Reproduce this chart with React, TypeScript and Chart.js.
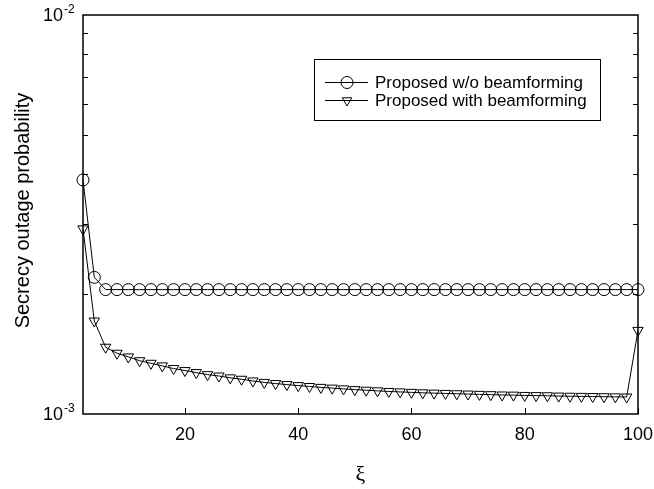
import React, { useEffect, useRef } from 'react';
import { Chart, registerables } from 'chart.js';

Chart.register(...registerables);

const xValues = [2, 4, 6, 8, 10, 12, 14, 16, 18, 20, 22, 24, 26, 28, 30, 32, 34, 36, 38, 40, 42, 44, 46, 48, 50, 52, 54, 56, 58, 60, 62, 64, 66, 68, 70, 72, 74, 76, 78, 80, 82, 84, 86, 88, 90, 92, 94, 96, 98, 100];

const withoutBeamforming = [3.86e-3, 2.2e-3, 2.05e-3, 2.05e-3, 2.05e-3, 2.05e-3, 2.05e-3, 2.05e-3, 2.05e-3, 2.05e-3,
  2.05e-3, 2.05e-3, 2.05e-3, 2.05e-3, 2.05e-3, 2.05e-3, 2.05e-3, 2.05e-3, 2.05e-3, 2.05e-3,
  2.05e-3, 2.05e-3, 2.05e-3, 2.05e-3, 2.05e-3, 2.05e-3, 2.05e-3, 2.05e-3, 2.05e-3, 2.05e-3,
  2.05e-3, 2.05e-3, 2.05e-3, 2.05e-3, 2.05e-3, 2.05e-3, 2.05e-3, 2.05e-3, 2.05e-3, 2.05e-3,
  2.05e-3, 2.05e-3, 2.05e-3, 2.05e-3, 2.05e-3, 2.05e-3, 2.05e-3, 2.05e-3, 2.05e-3, 2.05e-3];

const withBeamforming = [2.91e-3, 1.71e-3, 1.47e-3, 1.42e-3, 1.39e-3, 1.36e-3, 1.34e-3, 1.32e-3, 1.30e-3, 1.285e-3,
  1.27e-3, 1.255e-3, 1.245e-3, 1.232e-3, 1.222e-3, 1.21e-3, 1.2e-3, 1.192e-3, 1.185e-3, 1.178e-3,
  1.172e-3, 1.166e-3, 1.161e-3, 1.156e-3, 1.151e-3, 1.147e-3, 1.143e-3, 1.139e-3, 1.136e-3, 1.133e-3,
  1.13e-3, 1.128e-3, 1.126e-3, 1.124e-3, 1.122e-3, 1.12e-3, 1.118e-3, 1.116e-3, 1.115e-3, 1.113e-3,
  1.112e-3, 1.111e-3, 1.109e-3, 1.108e-3, 1.107e-3, 1.106e-3, 1.105e-3, 1.104e-3, 1.103e-3, 1.62e-3];

const seriesLabels = ['Proposed w/o beamforming', 'Proposed with beamforming'];
const xTickValues = [20, 40, 60, 80, 100];
const xTickLabels = ['20', '40', '60', '80', '100'];
const yMinorTicks = [2e-3, 3e-3, 4e-3, 5e-3, 6e-3, 7e-3, 8e-3, 9e-3];
const yMajorTicks = [1e-3, 1e-2];
const yMajorBase = '10';
const yMajorExponents = ['-3', '-2'];
const xTitle = 'ξ';
const yTitle = 'Secrecy outage probability';

const SANS = '"Liberation Sans", Arial, sans-serif';
const SERIF = '"Liberation Serif", "Times New Roman", serif';

function drawCircle(ctx: CanvasRenderingContext2D, x: number, y: number, r: number) {
  ctx.beginPath();
  ctx.arc(x, y, r, 0, Math.PI * 2);
  ctx.stroke();
}

function drawDownTriangle(ctx: CanvasRenderingContext2D, x: number, y: number, r: number) {
  ctx.beginPath();
  ctx.moveTo(x, y + r);
  ctx.lineTo(x - r * Math.sin(Math.PI / 3), y - r / 2);
  ctx.lineTo(x + r * Math.sin(Math.PI / 3), y - r / 2);
  ctx.closePath();
  ctx.stroke();
}

const framePlugin = {
  id: 'framePlugin',
  beforeDatasetsDraw(chart: any) {
    const { ctx, chartArea } = chart;
    const { left, right, top, bottom } = chartArea;
    const xs = chart.scales.x;
    const ys = chart.scales.y;
    ctx.save();
    ctx.strokeStyle = '#000';
    ctx.lineWidth = 1.5;
    ctx.strokeRect(left, top, right - left, bottom - top);
    ctx.lineWidth = 1;
    // y minor ticks (inward, both sides)
    yMinorTicks.forEach((v) => {
      const y = Math.round(ys.getPixelForValue(v)) + 0.5;
      ctx.beginPath();
      ctx.moveTo(left, y);
      ctx.lineTo(left + 5, y);
      ctx.moveTo(right, y);
      ctx.lineTo(right - 5, y);
      ctx.stroke();
    });
    // x ticks
    xTickValues.forEach((v) => {
      const x = Math.round(xs.getPixelForValue(v)) + 0.5;
      ctx.beginPath();
      ctx.moveTo(x, bottom);
      ctx.lineTo(x, bottom - 6);
      ctx.stroke();
    });
    // x tick labels
    ctx.fillStyle = '#000';
    ctx.font = `18px ${SANS}`;
    ctx.textAlign = 'center';
    ctx.textBaseline = 'middle';
    xTickValues.forEach((v, i) => {
      ctx.fillText(xTickLabels[i], xs.getPixelForValue(v), bottom + 21);
    });
    // y major labels
    yMajorTicks.forEach((v, i) => {
      const y = ys.getPixelForValue(v);
      ctx.font = `18px ${SANS}`;
      ctx.textAlign = 'right';
      ctx.textBaseline = 'middle';
      ctx.fillText(yMajorBase, left - 20, y + 1);
      ctx.font = `12px ${SANS}`;
      ctx.textAlign = 'left';
      ctx.fillText(yMajorExponents[i], left - 19, y - 5);
    });
    // axis titles
    ctx.font = `22px ${SERIF}`;
    ctx.textAlign = 'center';
    ctx.textBaseline = 'middle';
    ctx.fillText(xTitle, (left + right) / 2, bottom + 61);
    ctx.save();
    ctx.translate(23, (top + bottom) / 2 - 4);
    ctx.rotate(-Math.PI / 2);
    ctx.font = `20px ${SANS}`;
    ctx.fillText(yTitle, 0, 0);
    ctx.restore();
    ctx.restore();
  },
  afterDraw(chart: any) {
    const { ctx } = chart;
    ctx.save();
    ctx.strokeStyle = '#000';
    ctx.lineWidth = 1;
    ctx.strokeRect(314.5, 59.5, 286, 61);
    const rows = [82, 100];
    rows.forEach((y, i) => {
      ctx.beginPath();
      ctx.moveTo(325, y + 0.5);
      ctx.lineTo(368, y + 0.5);
      ctx.stroke();
      if (i === 0) drawCircle(ctx, 347, y + 0.5, 6);
      else drawDownTriangle(ctx, 347, y + 0.5, 5.5);
      ctx.fillStyle = '#000';
      ctx.font = `17px ${SANS}`;
      ctx.textAlign = 'left';
      ctx.textBaseline = 'middle';
      ctx.fillText(seriesLabels[i], 375, y + 1);
    });
    ctx.restore();
  },
};

export default function App() {
  const canvasRef = useRef<HTMLCanvasElement>(null);

  useEffect(() => {
    const prevMargin = document.body.style.margin;
    document.body.style.margin = '0';
    const canvas = canvasRef.current;
    if (!canvas) return;
    const chart = new Chart(canvas, {
      type: 'line',
      data: {
        datasets: [
          {
            label: seriesLabels[0],
            data: xValues.map((x, i) => ({ x, y: withoutBeamforming[i] })),
            borderColor: '#000',
            borderWidth: 1,
            pointStyle: 'circle',
            pointRadius: 6,
            pointBorderWidth: 1,
            pointBorderColor: '#000',
            pointBackgroundColor: 'rgba(0,0,0,0)',
            fill: false,
            tension: 0,
            clip: false as any,
          },
          {
            label: seriesLabels[1],
            data: xValues.map((x, i) => ({ x, y: withBeamforming[i] })),
            borderColor: '#000',
            borderWidth: 1,
            pointStyle: 'triangle',
            pointRotation: 180,
            pointRadius: 6,
            pointBorderWidth: 1,
            pointBorderColor: '#000',
            pointBackgroundColor: 'rgba(0,0,0,0)',
            fill: false,
            tension: 0,
            clip: false as any,
          },
        ],
      },
      options: {
        animation: false,
        responsive: true,
        maintainAspectRatio: false,
        layout: { padding: { left: 83, top: 15, right: 16, bottom: 75 } },
        plugins: { legend: { display: false }, tooltip: { enabled: false } },
        events: [],
        scales: {
          x: { type: 'linear', min: 2, max: 100, display: false },
          y: { type: 'logarithmic', min: 1e-3, max: 1e-2, display: false },
        },
      },
      plugins: [framePlugin],
    });
    return () => {
      chart.destroy();
      document.body.style.margin = prevMargin;
    };
  }, []);

  return (
    <div style={{ width: 654, height: 489, position: 'relative' }}>
      <canvas ref={canvasRef} />
    </div>
  );
}
